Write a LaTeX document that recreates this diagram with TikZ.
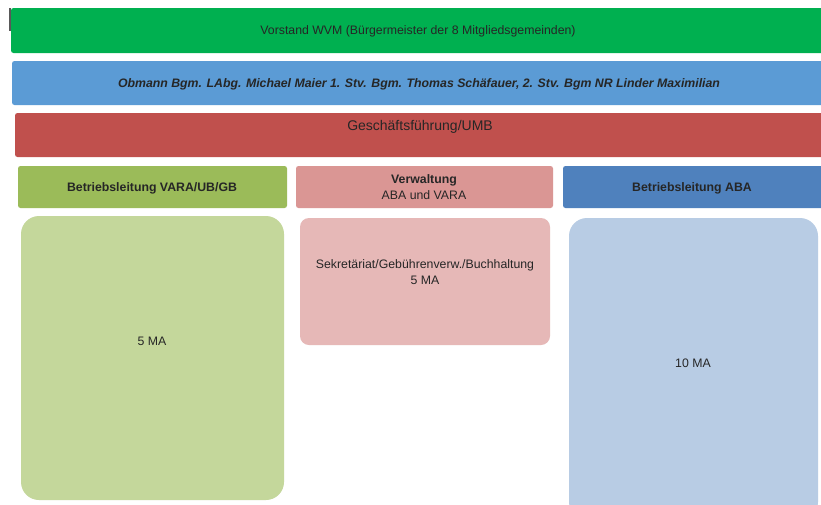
\documentclass[tikz,border=0pt]{standalone}
\usepackage{fontspec}
\setmainfont{Liberation Sans}
\definecolor{vorstand}{HTML}{00B050}
\definecolor{obmann}{HTML}{5B9BD5}
\definecolor{gf}{HTML}{C0504D}
\definecolor{hgreen}{HTML}{9BBB59}
\definecolor{hpink}{HTML}{DA9694}
\definecolor{hblue}{HTML}{4F81BD}
\definecolor{lgreen}{HTML}{C4D79B}
\definecolor{lpink}{HTML}{E6B8B7}
\definecolor{lblue}{HTML}{B8CCE4}
\begin{document}
\begin{tikzpicture}[x=1pt,y=-1pt,
  bar/.style={rounded corners=2.5pt},
  lbl/.style={font=\fontsize{12.3}{16}\selectfont, text=black!85, align=center},
  hlbl/.style={font=\fontsize{12.3}{16}\selectfont\bfseries, text=black!85, align=center},
  unit/.style={rounded corners=18pt}]
\useasboundingbox (0,0) rectangle (821,504);
\fill[white] (0,0) rectangle (821,504);

% executive board
\fill[vorstand,bar] (11,8) rectangle (826,53);
\fill[gray!70!black] (9,8) rectangle (10.5,31);
\node[lbl] (vorstand) at (418,31) {Vorstand WVM (Bürgermeister der 8 Mitgliedsgemeinden)};

% chairman and deputies
\fill[obmann,bar] (12,61) rectangle (826,105);
\node[hlbl,font=\fontsize{12.3}{16}\selectfont\bfseries\itshape] (obmann) at (419,84)
  {Obmann Bgm. LAbg. Michael Maier 1. Stv. Bgm. Thomas Schäfauer, 2. Stv. Bgm NR Linder Maximilian};

% management
\fill[gf,bar] (15,113) rectangle (826,157);
\node[lbl,font=\fontsize{14}{16}\selectfont] (gf) at (420,127) {Geschäftsführung/UMB};

% department headers
\fill[hgreen,bar] (18,166) rectangle (287,208);
\node[hlbl] (bl1) at (152,188) {Betriebsleitung VARA/UB/GB};
\fill[hpink,bar] (296,166) rectangle (553,208);
\node[lbl] (verw) at (424,187) {\textbf{Verwaltung}\\ABA und VARA};
\fill[hblue,bar] (563,166) rectangle (826,208);
\node[hlbl] (bl2) at (692,188) {Betriebsleitung ABA};

% staff units
\fill[lgreen,unit] (21,216) rectangle (284,500);
\node[lbl] (ma1) at (152,341) {5 MA};
\fill[lpink,rounded corners=9pt] (300,218) rectangle (550,345);
\node[lbl] (ma2) at (425,272) {Sekretäriat/Gebührenverw./Buchhaltung\\5 MA};
\fill[lblue,unit] (569,218) rectangle (818,520);
\node[lbl] (ma3) at (693,363) {10 MA};
\end{tikzpicture}
\end{document}
